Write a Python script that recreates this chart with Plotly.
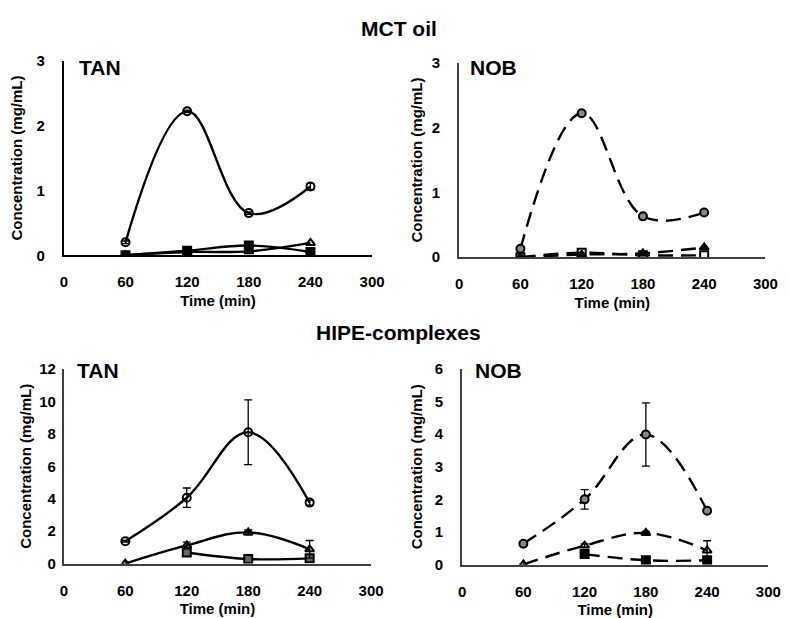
import plotly.graph_objects as go

# Sampling times (min)
time_min = [60, 120, 180, 240]

# MCT oil - TAN
mct_tan_circle = [0.20, 2.22, 0.65, 1.06]
mct_tan_circle_err = [0.02, 0.02, 0.02, 0.05]
mct_tan_square = [0.0, 0.07, 0.15, 0.05]
mct_tan_triangle = [0.0, 0.05, 0.06, 0.19]

# MCT oil - NOB
mct_nob_circle = [0.13, 2.22, 0.63, 0.69]
mct_nob_circle_err = [0.02, 0.03, 0.02, 0.03]
mct_nob_square = [0.0, 0.07, 0.03, 0.03]
mct_nob_triangle = [0.0, 0.04, 0.06, 0.15]

# HIPE-complexes - TAN
hipe_tan_circle = [1.38, 4.06, 8.1, 3.76]
hipe_tan_circle_err = [0.05, 0.6, 2.0, 0.15]
hipe_tan_triangle = [0.0, 1.12, 1.92, 0.88]
hipe_tan_triangle_err = [0.0, 0.2, 0.15, 0.54]
hipe_tan_square = [None, 0.68, 0.28, 0.32]
hipe_tan_square_err = [0, 0.08, 0.06, 0.06]

# HIPE-complexes - NOB
hipe_nob_circle = [0.64, 2.0, 3.99, 1.65]
hipe_nob_circle_err = [0.03, 0.3, 0.97, 0.05]
hipe_nob_triangle = [0.0, 0.58, 0.97, 0.43]
hipe_nob_triangle_err = [0.0, 0.05, 0.05, 0.3]
hipe_nob_square = [None, 0.32, 0.13, 0.13]
hipe_nob_square_err = [0, 0.03, 0.02, 0.02]

x_ticks = [0, 60, 120, 180, 240, 300]

FONT = "Liberation Sans, Arial, sans-serif"

fig = go.Figure()


def add_series(xa, ya, y, err, symbol, dash, fill):
    fig.add_trace(go.Scatter(
        x=time_min, y=y, xaxis=xa, yaxis=ya,
        mode="lines+markers",
        line=dict(color="black", width=2.4, dash=dash, shape="spline", smoothing=1.1),
        marker=dict(symbol=symbol, size=8, color=fill,
                    line=dict(color="black", width=2)),
        error_y=dict(type="data", array=err, visible=err is not None,
                     color="black", thickness=1.3, width=4),
        connectgaps=False,
        showlegend=False,
    ))


dash_nob = "15px,8px"
# top-left
add_series("x", "y", mct_tan_square, None, "square", "solid", "black")
add_series("x", "y", mct_tan_triangle, None, "triangle-up-open", "solid", "black")
add_series("x", "y", mct_tan_circle, mct_tan_circle_err, "circle-open", "solid", "black")
# top-right
add_series("x2", "y2", mct_nob_square, None, "square-open", dash_nob, "black")
add_series("x2", "y2", mct_nob_triangle, None, "triangle-up", dash_nob, "black")
add_series("x2", "y2", mct_nob_circle, mct_nob_circle_err, "circle", dash_nob, "#888888")
# bottom-left
add_series("x3", "y3", hipe_tan_square, hipe_tan_square_err, "square", "solid", "#666666")
add_series("x3", "y3", hipe_tan_triangle, hipe_tan_triangle_err, "triangle-up-open", "solid", "black")
add_series("x3", "y3", hipe_tan_circle, hipe_tan_circle_err, "circle-open", "solid", "black")
# bottom-right
add_series("x4", "y4", hipe_nob_square, hipe_nob_square_err, "square", dash_nob, "black")
add_series("x4", "y4", hipe_nob_triangle, hipe_nob_triangle_err, "triangle-up-open", dash_nob, "black")
add_series("x4", "y4", hipe_nob_circle, hipe_nob_circle_err, "circle", dash_nob, "#888888")

W, H = 790, 618


def xdom(a, b):
    return [a / W, b / W]


def ydom(top, bottom):
    return [1 - bottom / H, 1 - top / H]


tick_font = dict(family=FONT, size=15, color="black", weight="bold")
title_font = dict(family=FONT, size=15, color="black", weight="bold")


def xaxis(dom, anchor, line_color):
    return dict(domain=dom, anchor=anchor, range=[0, 300], tickvals=x_ticks,
                showgrid=False, zeroline=False, showline=True,
                linecolor=line_color, linewidth=2, ticks="",
                tickfont=tick_font, ticklabelstandoff=12,
                title=dict(text="Time (min)", font=title_font, standoff=6))


def yaxis(dom, anchor, rng, dtick, line_color, label_gap, title_gap):
    return dict(domain=dom, anchor=anchor, range=rng, dtick=dtick,
                showgrid=False, zeroline=False, showline=True,
                linecolor=line_color, linewidth=2, ticks="",
                tickfont=tick_font, ticklabelstandoff=label_gap,
                title=dict(text="Concentration (mg/mL)", font=title_font, standoff=title_gap))


fig.update_layout(
    width=W, height=H,
    margin=dict(l=0, r=0, t=0, b=0),
    paper_bgcolor="white", plot_bgcolor="white",
    xaxis=xaxis(xdom(53, 368), "y", "black"),
    yaxis=yaxis(ydom(45, 245), "x", [0, 3], 1, "black", 14, 10),
    xaxis2=xaxis(xdom(457, 770), "y2", "#404040"),
    yaxis2=yaxis(ydom(47, 247), "x2", [0, 3], 1, "#404040", 14, 6),
    xaxis3=xaxis(xdom(53, 367), "y3", "#404040"),
    yaxis3=yaxis(ydom(362, 562), "x3", [0, 12], 2, "#404040", 3, 4),
    xaxis4=xaxis(xdom(460, 773), "y4", "#404040"),
    yaxis4=yaxis(ydom(362, 563), "x4", [0, 6], 1, "#404040", 14, 8),
)

big = dict(family=FONT, size=21, color="black", weight="bold")
panel = dict(family=FONT, size=21, color="black", weight="bold")
fig.add_annotation(text="MCT oil", x=0.5, y=1 - 12 / H, xref="paper", yref="paper",
                   showarrow=False, font=big, yanchor="middle")
fig.add_annotation(text="HIPE-complexes", x=0.5, y=1 - 324 / H, xref="paper", yref="paper",
                   showarrow=False, font=big, yanchor="middle")
for xa, label, px in [("x", "TAN", 66), ("x2", "NOB", 466), ("x3", "TAN", 64), ("x4", "NOB", 471)]:
    py = 52 if xa in ("x", "x2") else 364
    fig.add_annotation(text=label, x=px / W, y=1 - py / H, xref="paper", yref="paper",
                       showarrow=False, font=panel, xanchor="left", yanchor="middle")

fig.write_html("out.html")
